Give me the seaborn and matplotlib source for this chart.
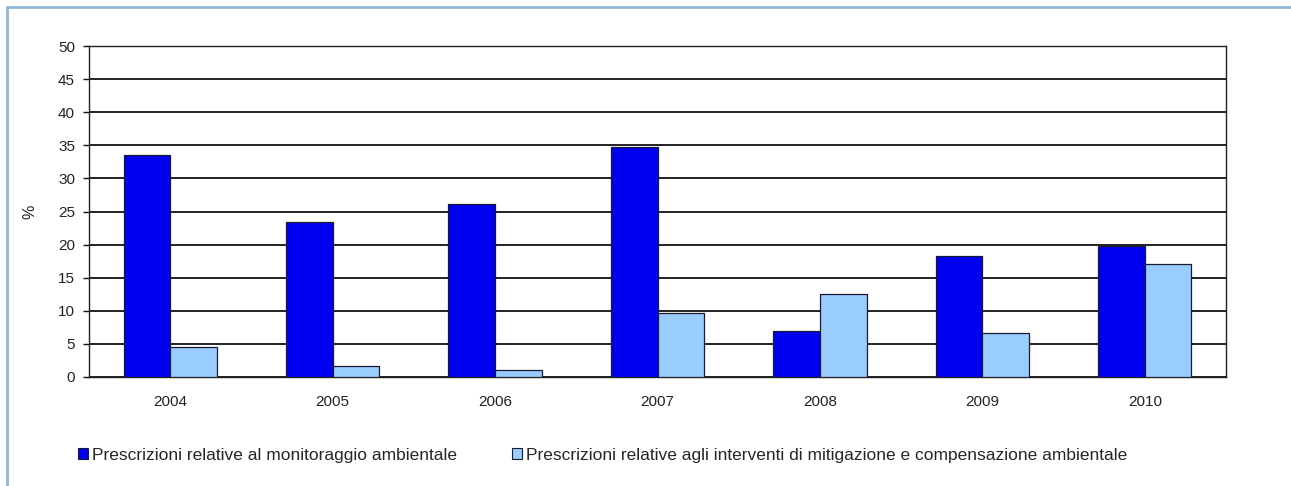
import matplotlib
matplotlib.use("Agg")
import matplotlib.pyplot as plt
import seaborn as sns
import pandas as pd
from matplotlib.patches import Rectangle
from matplotlib.lines import Line2D

years = ["2004", "2005", "2006", "2007", "2008", "2009", "2010"]
monitoraggio = [33.5, 23.4, 26.1, 34.8, 6.9, 18.3, 19.8]
mitigazione = [4.5, 1.7, 1.1, 9.6, 12.5, 6.7, 17.0]
series_names = ["Prescrizioni relative al monitoraggio ambientale",
                "Prescrizioni relative agli interventi di mitigazione e compensazione ambientale"]
yticks = [0, 5, 10, 15, 20, 25, 30, 35, 40, 45, 50]

df = pd.DataFrame({
    "anno": years * 2,
    "valore": monitoraggio + mitigazione,
    "serie": [series_names[0]] * len(years) + [series_names[1]] * len(years),
})

sns.set_theme(style="white")
plt.rcParams['font.family'] = ['Liberation Sans', 'DejaVu Sans']

fig = plt.figure(figsize=(12.91, 4.86), dpi=100)
fig.patch.set_facecolor("white")
ax = fig.add_axes([89/1291, 1 - 377/486, (1226-89)/1291, (377-46)/486])

palette = {series_names[0]: "#0000F0", series_names[1]: "#99CCFF"}
sns.barplot(data=df, x="anno", y="valore", hue="serie", palette=palette,
            width=0.575, saturation=1, edgecolor="#1a1a2e", linewidth=0.9,
            ax=ax, legend=True, zorder=3)

ax.set_ylim(0, 50)
ax.set_yticks(yticks)
ax.set_yticklabels([str(t) for t in yticks], fontsize=11, color="#222222")
ax.set_xlim(-0.5, len(years) - 0.5)
ax.tick_params(axis="x", length=0, pad=13, labelsize=11, labelcolor="#222222")
ax.tick_params(axis="y", left=True, length=4, width=1, color="#111111", pad=6)
ax.set_xlabel("")
ax.set_ylabel("%", fontsize=11.5, color="#222222", labelpad=15)
for t in yticks:
    ax.axhline(t, color="#111111", linewidth=1.3, zorder=1)
for s in ax.spines.values():
    s.set_visible(True)
    s.set_color("#222222")
    s.set_linewidth(1.0)
ax.set_facecolor("white")

handles = [Rectangle((0, 0), 1, 1, facecolor=palette[n], edgecolor="#1a1a2e", linewidth=0.8)
           for n in series_names]
ax.get_legend().remove()
fig.legend(handles, series_names, loc="center left",
           bbox_to_anchor=(78/1291, 1 - 455/486), ncol=2, frameon=False,
           fontsize=12.55, handlelength=0.58, handleheight=0.58, handletextpad=0.25,
           columnspacing=3.1, borderaxespad=0, borderpad=0)

fig.add_artist(Line2D([7/1291, 1.0], [1 - 7/486, 1 - 7/486], transform=fig.transFigure,
                      color="#8fb9d9", linewidth=2))
fig.add_artist(Line2D([7/1291, 7/1291], [1 - 7/486, 0.0], transform=fig.transFigure,
                      color="#8fb9d9", linewidth=2))

fig.savefig("out.png", dpi=100)
